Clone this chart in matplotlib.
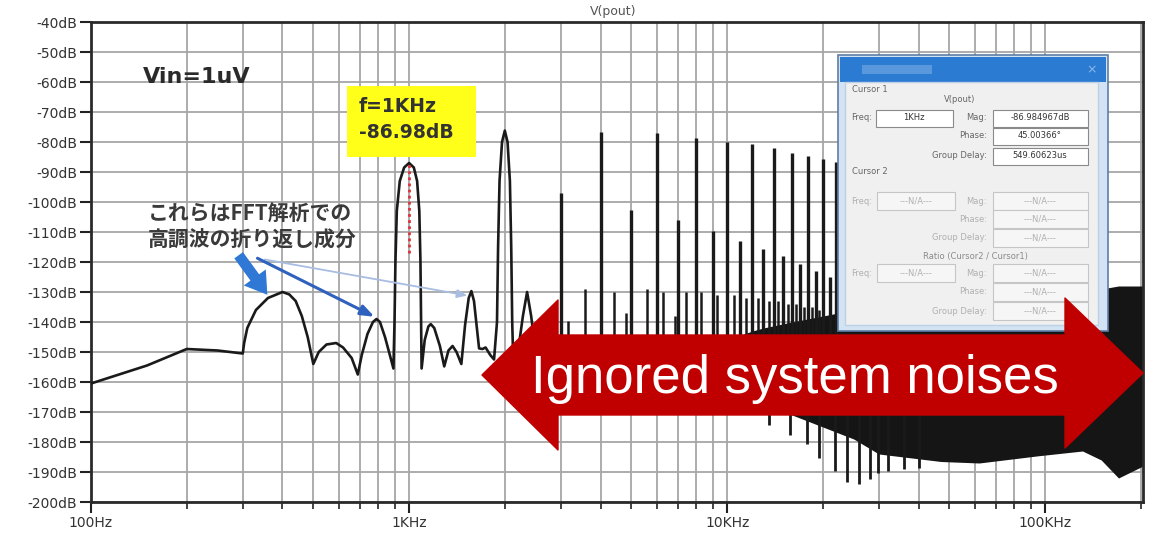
import matplotlib
matplotlib.use("Agg")
import matplotlib.pyplot as plt
from matplotlib.patches import Polygon, Rectangle
from matplotlib.ticker import FixedLocator, NullFormatter

# --- FFT trace below 3kHz (Hz, dB)
low_f = [100, 150, 200, 250, 300, 303, 310, 330, 360, 400, 420, 440, 460, 480, 500,
         520, 550, 590, 620, 660, 690, 710, 740, 770, 790, 810, 840, 870, 893,
         900, 906, 915, 935, 965, 1000, 1035, 1060, 1077, 1086, 1091, 1095,
         1120, 1150, 1170, 1200, 1250, 1290, 1330, 1370, 1410, 1460,
         1500, 1540, 1570, 1600, 1630, 1660, 1700, 1740, 1800, 1850,
         1890, 1905, 1925, 1960, 2000, 2040, 2075, 2095, 2110, 2125,
         2200, 2280, 2350, 2420, 2500, 2600, 2750, 2900]
low_db = [-160.5, -154.5, -149, -149.5, -150.5, -147, -142, -136, -132, -130, -130.8, -133, -138, -145, -154,
          -150, -147.5, -147, -148.5, -152, -157.5, -151, -144, -140, -139, -140, -145, -151, -155.5,
          -140, -120, -103, -93, -88.5, -87, -88.5, -93, -103, -120, -140, -155.5,
          -146, -141.5, -140.7, -142, -148, -154.8, -149.5, -148, -150, -154,
          -141, -132, -129.7, -133, -141, -148.8, -149, -148.5, -151, -152.5,
          -140, -115, -93, -80, -76.2, -80, -93, -115, -140, -152,
          -150, -138, -130, -138, -150, -155, -152, -156]

# --- harmonics of 1kHz (kHz, peak dB)
harm_khz = [3, 4, 5, 6, 7, 8, 9, 10, 11, 12, 13, 14, 15, 16, 17, 18, 19, 20, 21, 22]
harm_db = [-97, -76.8, -102.5, -77, -106, -78.5, -109.6, -80, -113, -80.8, -115.7, -82,
           -118, -83.5, -120.7, -84.5, -123, -85.5, -125, -86.5]
harm_floor = -158

# --- small spurs between harmonics (kHz, dB)
spur_khz = [3.17, 3.58, 4.4, 4.8, 5.6, 6.3, 6.85, 7.4, 8.3, 9.3, 10.5, 11.5, 12.5,
            13.5, 14.5, 15.5, 16.5, 17.5, 18.5, 19.5]
spur_db = [-139.7, -129, -130, -137, -129, -130, -138, -130, -130, -131, -131, -132, -132,
           -133, -133, -134, -134, -135, -135, -136]

# --- deep notches below the noise band (kHz, dB)
deep_khz = [13.5, 15.8, 17.8, 19.5, 21.9, 23.8, 25.9, 28.1, 29.8, 32, 36, 40]
deep_db = [-174.2, -177.6, -180.6, -185.3, -189.6, -193.3, -194, -192.3, -190.3, -189.5, -189, -188.5]

# --- dense noise band envelope (kHz, top dB, bottom dB)
band_khz = [8, 10, 12, 13, 16, 20, 25, 30, 47, 62, 95, 131, 150, 170, 203]
band_top = [-148, -146, -143, -142, -140, -138, -136, -133, -132, -131, -130, -130, -129, -128, -128]
band_bot = [-150, -152, -158, -166, -171, -175, -179, -184, -186.5, -187, -184.6, -183, -186, -192, -188]

marker_f = 1000
marker_db = -86.98
marker_low = -117

y_ticks = list(range(-200, -39, 10))
y_labels = [f"{v}dB" for v in y_ticks]
x_ticks = [100, 1000, 10000, 100000]
x_labels = ["100Hz", "1KHz", "10KHz", "100KHz"]
x_minor = [m * d for d in (100, 1000, 10000, 100000) for m in range(2, 10)]

W, H = 1158, 533
fig = plt.figure(figsize=(W / 100, H / 100), dpi=100)
ax = fig.add_axes([91 / W, 1 - 502 / H, (1143 - 91) / W, (502 - 22) / H])

ax.set_xscale("log")
ax.set_xlim(100, 203000)
ax.set_ylim(-200, -40)

gcol = "#a6a6a6"
for f in x_ticks + x_minor:
    if f < 203000:
        ax.axvline(f, color=gcol, lw=1.3, zorder=0)
for v in y_ticks:
    ax.axhline(v, color=gcol, lw=1.3, zorder=0)

tr = "#1a1a1a"
ax.fill_between([k * 1000 for k in band_khz], band_bot, band_top, color="#151515", lw=0, zorder=2)
ax.vlines([k * 1000 for k in deep_khz], -168, deep_db, color=tr, lw=2.0, zorder=2)
ax.vlines([k * 1000 for k in spur_khz], -152, spur_db, color=tr, lw=1.8, zorder=3)
ax.vlines([k * 1000 for k in harm_khz], harm_floor, harm_db, color=tr, lw=2.4, zorder=3)
ax.plot(low_f, low_db, color=tr, lw=1.9, zorder=4)
ax.plot([marker_f, marker_f], [marker_low, marker_db], color="#e0303a", lw=2, ls=(0, (1, 1.2)), zorder=5)

ax.xaxis.set_major_locator(FixedLocator(x_ticks))
ax.xaxis.set_minor_locator(FixedLocator(x_minor))
ax.xaxis.set_minor_formatter(NullFormatter())
ax.set_xticklabels(x_labels)
ax.set_yticks(y_ticks)
ax.set_yticklabels(y_labels)
ax.tick_params(axis="both", which="major", length=8, width=1.5, color="#222", labelsize=10, labelcolor="#333", pad=2)
ax.tick_params(axis="x", which="minor", length=5, width=1.2, color="#222")
for s in ax.spines.values():
    s.set_color("#2a2a2a")
    s.set_linewidth(2)

# ---- overlay in pixel coordinates
ov = fig.add_axes([0, 0, 1, 1])
ov.set_xlim(0, W)
ov.set_ylim(H, 0)
ov.axis("off")

ov.text(613, 12, "V(pout)", ha="center", va="center", fontsize=9, color="#555")
ov.text(143, 77, "Vin=1uV", ha="left", va="center", fontsize=16, fontweight="bold", color="#2a2a2a")

ov.add_patch(Rectangle((347, 86), 129, 71, facecolor="#ffff1a", edgecolor="none"))
ov.text(359, 106, "f=1KHz", ha="left", va="center", fontsize=13.5, fontweight="bold", color="#333")
ov.text(359, 133, "-86.98dB", ha="left", va="center", fontsize=13.5, fontweight="bold", color="#333")

jp = ["Noto Sans CJK JP", "DejaVu Sans"]
ov.text(148, 213, "これらはFFT解析での", ha="left", va="center", fontsize=15, fontweight="bold",
        color="#3a3a3a", family=jp)
ov.text(148, 240, "高調波の折り返し成分", ha="left", va="center", fontsize=15, fontweight="bold",
        color="#3a3a3a", family=jp)

ov.annotate("", xy=(470, 296), xytext=(262, 259),
            arrowprops=dict(arrowstyle="-|>,head_width=0.25,head_length=0.6", color="#a9bde0", lw=1.3))
ov.annotate("", xy=(377, 318), xytext=(255, 257),
            arrowprops=dict(arrowstyle="-|>,head_width=0.3,head_length=0.8", color="#2e62bd", lw=2.2))
ov.annotate("", xy=(269, 297), xytext=(237, 253),
            arrowprops=dict(arrowstyle="simple,head_width=1.4,head_length=1.1,tail_width=0.55",
                            color="#2f78d6", mutation_scale=14, lw=0))

# cursor dialog
ov.add_patch(Rectangle((838, 55), 270, 276, facecolor="#d3e3f3", edgecolor="#5d7fa6", lw=1.2))
ov.add_patch(Rectangle((840, 57), 266, 25, facecolor="#2b7bd3", edgecolor="none"))
ov.add_patch(Rectangle((862, 65), 70, 9, facecolor="#5a98de", edgecolor="none"))
ov.text(1092, 70, "×", ha="center", va="center", fontsize=9, color="#8fb8ea")
ov.add_patch(Rectangle((845, 82), 253, 243, facecolor="#f0f0f0", edgecolor="#bcd0e6", lw=1))

lab = dict(fontsize=6, color="#666")
ov.text(852, 90, "Cursor 1", ha="left", va="center", **lab)
ov.text(960, 99, "V(pout)", ha="center", va="center", **lab)
rows1 = [(118, "Mag:", "-86.984967dB"), (136, "Phase:", "45.00366°"), (156, "Group Delay:", "549.60623us")]
ov.text(872, 118, "Freq:", ha="right", va="center", **lab)
ov.add_patch(Rectangle((876, 110), 77, 17, facecolor="white", edgecolor="#8a8a8a", lw=0.8))
ov.text(914, 118, "1KHz", ha="center", va="center", fontsize=6, color="#333")
for y, name, val in rows1:
    ov.text(987, y, name, ha="right", va="center", **lab)
    ov.add_patch(Rectangle((993, y - 8.5), 95, 17, facecolor="white", edgecolor="#8a8a8a", lw=0.8))
    ov.text(1040, y, val, ha="center", va="center", fontsize=6, color="#333")
ov.text(852, 172, "Cursor 2", ha="left", va="center", **lab)

dim = dict(fontsize=6, color="#b0b0b0")
for top_y, rows in ((201, (201, 219, 238)), (273, (273, 292, 311))):
    ov.text(872, top_y, "Freq:", ha="right", va="center", **dim)
    ov.add_patch(Rectangle((877, top_y - 9), 78, 18, facecolor="#f6f6f6", edgecolor="#c6c6c6", lw=0.8))
    ov.text(916, top_y, "---N/A---", ha="center", va="center", **dim)
    for y, name in zip(rows, ("Mag:", "Phase:", "Group Delay:")):
        ov.text(987, y, name, ha="right", va="center", **dim)
        ov.add_patch(Rectangle((993, y - 9), 95, 18, facecolor="#f6f6f6", edgecolor="#c6c6c6", lw=0.8))
        ov.text(1040, y, "---N/A---", ha="center", va="center", **dim)
ov.text(975, 257, "Ratio (Cursor2 / Cursor1)", ha="center", va="center", fontsize=6, color="#8a8a8a")

# big red double arrow
arrow = [(482, 375), (558, 300), (558, 335), (1065, 335), (1065, 298), (1143, 373),
         (1065, 448), (1065, 415), (558, 415), (558, 450)]
ov.add_patch(Polygon(arrow, closed=True, facecolor="#c00000", edgecolor="#c00000", lw=1, joinstyle="round"))
ov.text(795, 393, "Ignored system noises", ha="center", va="baseline", fontsize=38,
        family="Liberation Sans", color="white")

fig.savefig("out.png", dpi=100, facecolor="white")
